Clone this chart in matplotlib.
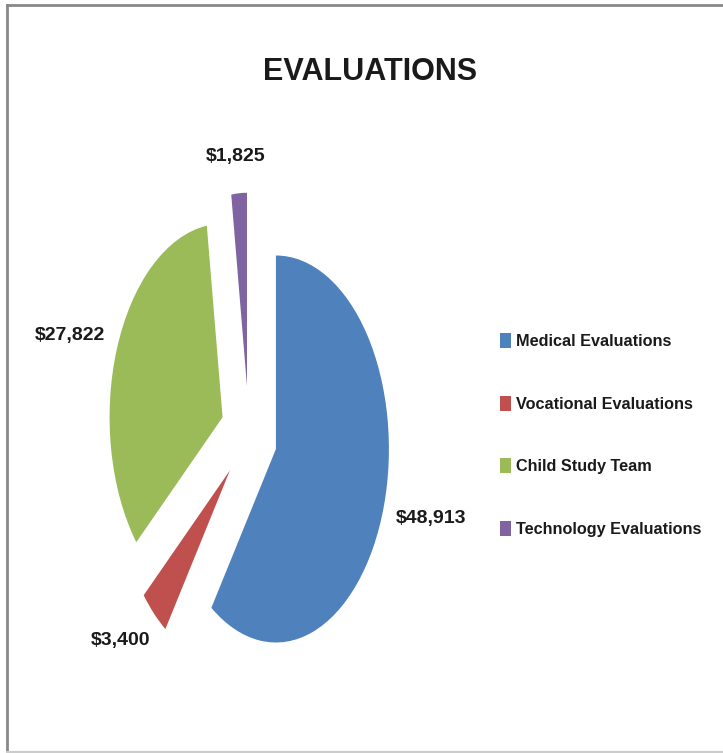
import numpy as np
import matplotlib.pyplot as plt
from matplotlib.lines import Line2D

plt.rcParams['font.family'] = ['Liberation Sans Narrow', 'DejaVu Sans Condensed',
                               'Liberation Sans', 'DejaVu Sans']

# pie data
categories = ["Medical Evaluations", "Vocational Evaluations",
              "Child Study Team", "Technology Evaluations"]
amounts = [48913, 3400, 27822, 1825]
colors = ["#4F81BD", "#C0504D", "#9BBB59", "#8064A2"]

fig = plt.figure(figsize=(7.23, 7.53), dpi=100)
# axes placed so the pie comes out stretched vertically like the picture
ax = fig.add_axes([0.0943, 0.0118, 0.5001, 0.8223])

explode = [0.25] * len(amounts)
wedges, _ = ax.pie(amounts, colors=colors, explode=explode, startangle=90,
                   counterclock=False, wedgeprops=dict(linewidth=0))
ax.set_aspect('auto')
ax.set_xlim(-1.6, 1.6)
ax.set_ylim(-1.6, 1.6)
ax.axis('off')

# data labels just outside each slice
for w, val in zip(wedges, amounts):
    ang = np.deg2rad((w.theta1 + w.theta2) / 2)
    cx, cy = w.center
    ax.annotate("${:,}".format(val),
                xy=(cx + np.cos(ang), cy + np.sin(ang)),
                xytext=(50 * np.cos(ang), 37 * np.sin(ang)),
                textcoords='offset pixels', ha='center', va='center',
                fontsize=14, fontweight='bold', color='#1a1a1a')

fig.text(0.512, 0.905, "EVALUATIONS", ha='center', va='center',
         fontsize=22, fontweight='bold', color='#1a1a1a')

fig.legend(wedges, categories, loc='center left',
           bbox_to_anchor=(0.6916, 0.4223), frameon=False,
           prop={'weight': 'bold', 'size': 11.7},
           handlelength=0.69, handleheight=1.06, handletextpad=0.3,
           labelspacing=2.85, borderpad=0, borderaxespad=0,
           labelcolor='#1a1a1a')

# chart frame
fig.add_artist(Line2D([7 / 723, 1], [1 - 5 / 753, 1 - 5 / 753],
                      transform=fig.transFigure, color='#888888', lw=2))
fig.add_artist(Line2D([7 / 723, 7 / 723], [0, 1 - 5 / 753],
                      transform=fig.transFigure, color='#888888', lw=2))
fig.add_artist(Line2D([7 / 723, 1], [1 / 753, 1 / 753],
                      transform=fig.transFigure, color='#cccccc', lw=1.5))

fig.savefig("out.png", dpi=100)
